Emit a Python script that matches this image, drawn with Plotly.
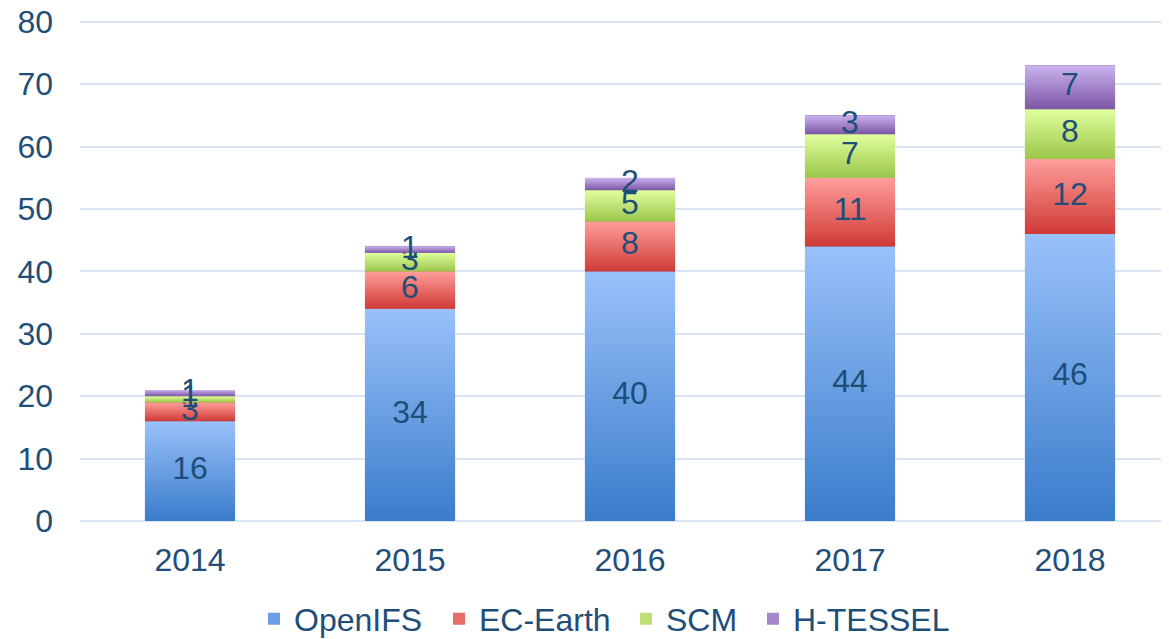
import plotly.graph_objects as go

years = ['2014', '2015', '2016', '2017', '2018']
openifs = [16, 34, 40, 44, 46]
ec_earth = [3, 6, 8, 11, 12]
scm = [1, 3, 5, 7, 8]
h_tessel = [1, 1, 2, 3, 7]

TEXT = '#1F4E79'
FONT = 'Liberation Sans, Arial, sans-serif'
BAR_W = 0.41
W, H = 1169, 639

# name, values, mid colour (legend), top colour, bottom colour, legend id, legend left px
series = [
    ('OpenIFS', openifs, '#6C9DE6', '#99C1FA', '#3A7CCB', 'legend', 246),
    ('EC-Earth', ec_earth, '#E96C69', '#FF9E9B', '#CF3A36', 'legend2', 431),
    ('SCM', scm, '#BEDF75', '#E0FF9E', '#9BC64A', 'legend3', 618),
    ('H-TESSEL', h_tessel, '#A487CB', '#CBB3EE', '#7C56A6', 'legend4', 745),
]

xs = list(range(len(years)))
fig = go.Figure()

# plain stacked bars (also give the legend)
for name, vals, col, top, bot, leg, lx in series:
    fig.add_trace(go.Bar(
        name=name, x=xs, y=vals, width=BAR_W,
        marker=dict(color=col, line=dict(width=0)),
        legend=leg,
        hoverinfo='skip',
    ))

# gradient overlay for every segment + labels
base = [0] * len(years)
for name, vals, col, top, bot, leg, lx in series:
    mids = []
    for i, v in enumerate(vals):
        b, t = base[i], base[i] + v
        fig.add_trace(go.Scatter(
            x=[i - BAR_W / 2, i + BAR_W / 2, i + BAR_W / 2, i - BAR_W / 2, i - BAR_W / 2],
            y=[b, b, t, t, b],
            mode='lines', fill='toself',
            line=dict(width=0),
            fillgradient=dict(type='vertical', colorscale=[[0, bot], [1, top]]),
            showlegend=False, hoverinfo='skip',
        ))
        mids.append(b + v / 2)
        base[i] = t
    fig.add_trace(go.Scatter(
        x=xs, y=mids, text=vals, mode='text',
        textfont=dict(color=TEXT, size=32, family=FONT),
        showlegend=False, hoverinfo='skip',
    ))

legends = {}
for name, vals, col, top, bot, leg, lx in series:
    legends[leg] = dict(
        orientation='h',
        xref='container', yref='container',
        x=lx / W, xanchor='left',
        y=0.044, yanchor='middle',
        font=dict(size=32, color=TEXT, family=FONT),
        itemwidth=30,
        bgcolor='rgba(0,0,0,0)',
    )

fig.update_layout(
    barmode='stack',
    width=W,
    height=H,
    margin=dict(l=72, r=8, t=11, b=126),
    paper_bgcolor='white',
    plot_bgcolor='white',
    font=dict(family=FONT, color=TEXT, size=32),
    xaxis=dict(
        range=[-0.5, 4.45],
        tickvals=xs,
        ticktext=years,
        showgrid=False,
        zeroline=False,
        showline=False,
        ticks='',
        ticklabelstandoff=17,
        automargin=False,
        tickfont=dict(size=32, color=TEXT),
    ),
    yaxis=dict(
        range=[0, 80.45],
        tickvals=[0, 10, 20, 30, 40, 50, 60, 70, 80],
        showgrid=True,
        gridcolor='#D9E3F1',
        gridwidth=2,
        zeroline=True,
        zerolinecolor='#D9E3F1',
        zerolinewidth=2,
        ticks='',
        ticklabelstandoff=26,
        ticklabeloverflow='allow',
        automargin=False,
        tickfont=dict(size=32, color=TEXT),
    ),
    **legends,
)

fig.write_html('out.html')
